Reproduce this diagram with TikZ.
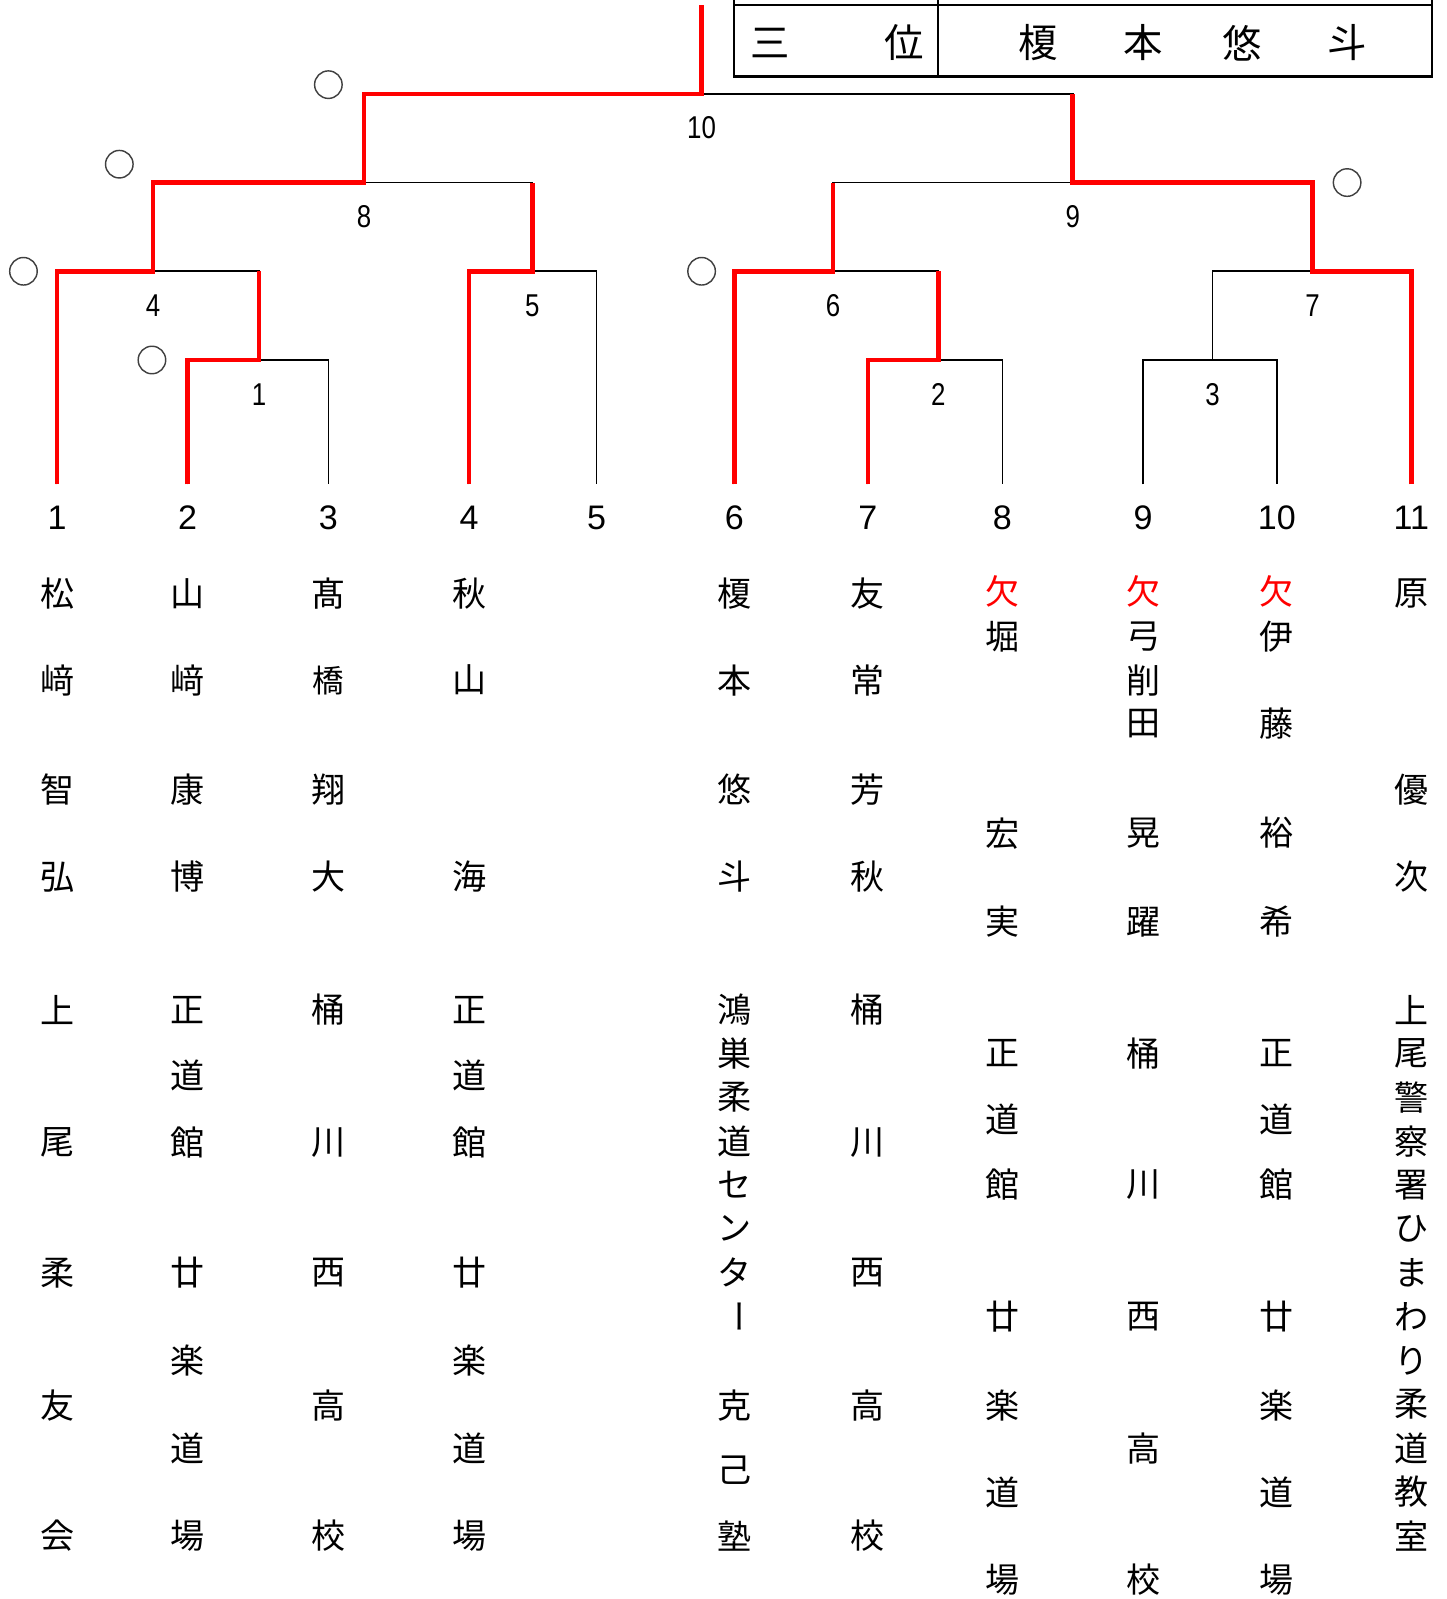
\documentclass[tikz,border=0pt]{standalone}
\usepackage{fontspec}
\setmainfont{Noto Sans CJK JP}
\newfontfamily\numfont{Liberation Sans}
\newfontfamily\narrowfont[FakeStretch=0.82]{Liberation Sans}
\usetikzlibrary{positioning}
\definecolor{winred}{HTML}{FF0000}
\definecolor{ringgray}{HTML}{404040}
\tikzset{
  base/.style={draw=black, line width=.45pt},
  winpath/.style={draw=winred, line width=1.3pt, line join=miter},
  matchno/.style={font=\narrowfont\fontsize{8.8pt}{9pt}\selectfont, inner sep=0pt},
  entryno/.style={font=\numfont\fontsize{9.5pt}{10pt}\selectfont, inner sep=0pt},
  namech/.style={font=\fontsize{9.5pt}{10pt}\selectfont, inner sep=0pt},
  smallch/.style={namech, font=\fontsize{8.8pt}{9pt}\selectfont},
  absent/.style={namech, text=winred},
  ring/.style={circle, draw=ringgray, line width=.4pt, minimum size=2.7mm, inner sep=0pt},
  tbl/.style={draw=black, line width=.6pt},
  tbltext/.style={font=\fontsize{11pt}{12pt}\selectfont, inner sep=0pt}
}

\begin{document}
\begin{tikzpicture}[x=0.1mm,y=-0.1mm]
  \useasboundingbox (0,0) rectangle (1418,1568);

  % third place box
  \draw[tbl] (720,0) -- (720,75) -- (1404,75) -- (1404,0);
  \draw[tbl] (720,5) -- (1404,5);
  \draw[tbl] (920,0) -- (920,75);
  \node[tbltext] (t1) at (755,42) {三};
  \node[tbltext] (t2) at (887,42) {位};
  \foreach \c/\x in {榎/1018,本/1121,悠/1218,斗/1321}
    \node[tbltext] (t-\x) at (\x,42) {\c};

  % entries and matches
  \foreach \n/\x in {1/56,2/184,3/322,4/460,5/585,6/720,7/851,8/983,9/1121,10/1252,11/1384} {
    \coordinate (p\n) at (\x,475);
    \node[entryno] (e\n) at (\x,508) {\n};
  }
  \coordinate (m1) at (254,353);  \coordinate (m2) at (920,353);
  \coordinate (m3) at (1189,353); \coordinate (m4) at (150,266);
  \coordinate (m5) at (522,266);  \coordinate (m6) at (817,266);
  \coordinate (m7) at (1287,266); \coordinate (m8) at (357,179);
  \coordinate (m9) at (1052,179); \coordinate (m10) at (688,92);
  \coordinate (top) at (688,5);
  \foreach \m in {1,...,10}
    \node[matchno] (n\m) at ([yshift=-3.35mm]m\m) {\m};

  \draw[base] (p2) |- (m1) -| (p3);
  \draw[base] (p1) |- (m4) -| (m1);
  \draw[base] (p4) |- (m5) -| (p5);
  \draw[base] (m4) |- (m8) -| (m5);
  \draw[base] (p7) |- (m2) -| (p8);
  \draw[base] (p6) |- (m6) -| (m2);
  \draw[base] (p9) |- (m3) -| (p10);
  \draw[base] (m3) |- (m7) -| (p11);
  \draw[base] (m6) |- (m9) -| (m7);
  \draw[base] (m8) |- (m10) -| (m9);

  % winners
  \draw[winpath] (p1) |- (m4) |- (m8) |- (m10) -- (top);
  \draw[winpath] (p2) |- (m1) -- (m1 |- m4);
  \draw[winpath] (p4) |- (m5) -- (m5 |- m8);
  \draw[winpath] (p6) |- (m6) -- (m6 |- m9);
  \draw[winpath] (p7) |- (m2) -- (m2 |- m6);
  \draw[winpath] (p11) |- (m7) |- (m9) -- (m9 |- m10);

  \node[ring] (r10) at (322,83) {};
  \node[ring] (r8) at (117,161) {};
  \node[ring] (r4) at (23,266) {};
  \node[ring] (r1) at (149,353) {};
  \node[ring] (r6) at (688,266) {};
  \node[ring] (r9) at (1321,179) {};

  % names and clubs
  \foreach \c/\y in {松/582,﨑/667,智/774,弘/860,上/990,尾/1120,柔/1248,友/1378,会/1506}
    \node[namech] (a1-\y) at (56,\y) {\c};
  \foreach \c/\y in {山/582,﨑/667,康/774,博/860,正/990,道/1055,館/1120,廿/1248,楽/1334,道/1420,場/1506}
    \node[namech] (a2-\y) at (184,\y) {\c};
  \foreach \c/\y in {髙/582,翔/774,大/860,桶/990,川/1120,西/1248,高/1378,校/1506}
    \node[namech] (a3-\y) at (322,\y) {\c};
  \node[smallch] (a3-667) at (322,667) {橋};
  \foreach \c/\y in {秋/582,山/667,海/860,正/990,道/1055,館/1120,廿/1248,楽/1334,道/1420,場/1506}
    \node[namech] (a4-\y) at (460,\y) {\c};
  \foreach \c/\y in {榎/582,本/667,悠/774,斗/860,鴻/990,巣/1033,柔/1076,道/1119,セ/1162,ン/1205,タ/1248,克/1378,己/1442,塾/1506}
    \node[namech] (a6-\y) at (720,\y) {\c};
  \node[namech, rotate=-90] (a6-1291) at (720,1291) {ー};
  \foreach \c/\y in {友/582,常/667,芳/774,秋/860,桶/990,川/1120,西/1248,高/1378,校/1506}
    \node[namech] (a7-\y) at (851,\y) {\c};
  \foreach \x in {983,1121,1252}
    \node[absent] (x\x) at (\x,580) {欠};
  \foreach \c/\y in {堀/624,宏/817,実/904,正/1033,道/1098,館/1162,廿/1291,楽/1378,道/1463,場/1549}
    \node[namech] (a8-\y) at (983,\y) {\c};
  \foreach \c/\y in {弓/624,削/667,田/710,晃/817,躍/904,桶/1033,川/1162,西/1291,高/1420,校/1549}
    \node[namech] (a9-\y) at (1121,\y) {\c};
  \foreach \c/\y in {伊/624,藤/710,裕/817,希/904,正/1033,道/1098,館/1162,廿/1291,楽/1378,道/1463,場/1549}
    \node[namech] (a10-\y) at (1252,\y) {\c};
  \foreach \c/\y in {原/582,優/774,次/860,上/990,尾/1033,警/1076,察/1119,署/1162,ひ/1205,ま/1248,わ/1291,り/1334,柔/1377,道/1420,教/1463,室/1506}
    \node[namech] (a11-\y) at (1384,\y) {\c};
\end{tikzpicture}
\end{document}
